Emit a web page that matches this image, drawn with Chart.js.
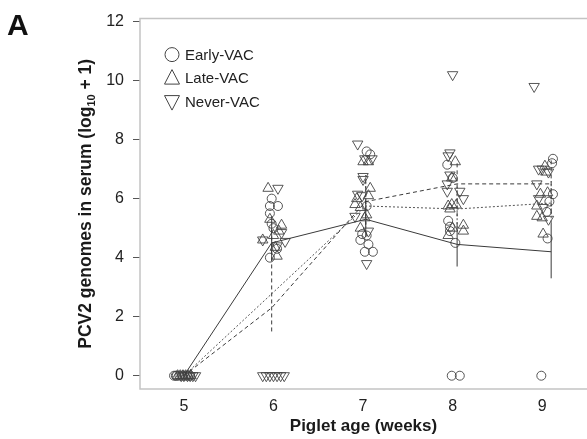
<!DOCTYPE html>
<html>
<head>
<meta charset="utf-8">
<script src="https://cdn.jsdelivr.net/npm/chart.js@4.4.0/dist/chart.umd.min.js"></script>
<style>
  body { margin: 0; background: #fff; }
  canvas { display: block; }
</style>
</head>
<body>
<canvas id="chart" width="587" height="439"></canvas>
<script>
const FONT = "'Liberation Sans', Arial, Helvetica, sans-serif";

const groups = ['Early-VAC', 'Late-VAC', 'Never-VAC'];
const weekTicks = [5, 6, 7, 8, 9];
const valueTicks = [0, 2, 4, 6, 8, 10, 12];

// single pigs, [age in weeks (jittered), log10 genomes + 1]
const earlyPoints = [
  [4.89, 0], [4.92, 0], [4.95, 0], [4.98, 0], [5.01, 0], [5.04, 0], [5.07, 0], [4.91, 0],
  [5.98, 6.0], [6.05, 5.75], [5.96, 5.75], [5.96, 5.5], [5.98, 5.15], [6.04, 4.3], [5.96, 4.0], [6.0, 5.0],
  [7.04, 7.6], [7.08, 7.5], [7.04, 5.75], [6.99, 4.8], [7.04, 4.75], [6.97, 4.6], [7.06, 4.45], [7.02, 4.2], [7.11, 4.2],
  [7.94, 7.15], [8.0, 6.7], [7.95, 5.25], [7.97, 5.05], [7.97, 4.9], [8.03, 4.5], [7.99, 0], [8.08, 0],
  [9.12, 7.35], [9.11, 7.2], [9.12, 6.15], [9.08, 5.9], [9.05, 5.55], [9.06, 4.65], [8.99, 0]
];
const latePoints = [
  [4.93, 0], [4.96, 0], [4.99, 0], [5.02, 0], [5.05, 0], [5.08, 0],
  [5.94, 6.35], [5.96, 5.3], [6.09, 5.1], [6.0, 4.75], [5.88, 4.6], [6.04, 4.05], [6.02, 4.35], [6.06, 4.9],
  [7.0, 7.25], [7.06, 7.25], [7.08, 6.35], [6.93, 6.0], [7.06, 6.1], [6.91, 5.8], [6.97, 5.7], [7.04, 5.45], [7.02, 5.35], [6.97, 5.0],
  [8.03, 7.25], [7.99, 6.7], [7.95, 5.75], [7.99, 5.8], [8.04, 5.78], [7.97, 5.65], [8.0, 5.0], [8.12, 5.1], [8.12, 4.9], [7.95, 4.75],
  [9.03, 7.1], [9.04, 6.9], [8.98, 6.15], [9.06, 6.2], [8.94, 5.75], [8.94, 5.4], [9.0, 5.35], [9.01, 4.8]
];
const neverPoints = [
  [4.97, 0], [5.0, 0], [5.04, 0], [5.07, 0], [5.1, 0], [5.13, 0],
  [6.05, 6.35], [6.09, 4.85], [5.88, 4.6], [6.13, 4.55], [6.04, 4.4],
  [5.88, 0], [5.92, 0], [5.96, 0], [6.0, 0], [6.04, 0], [6.08, 0], [6.12, 0],
  [6.94, 7.85], [7.02, 7.35], [7.1, 7.35], [7.0, 6.75], [7.0, 6.65], [6.94, 6.15], [6.99, 6.1], [6.91, 5.4], [7.06, 4.9], [7.04, 3.8],
  [8.0, 10.2], [7.97, 7.55], [7.95, 7.45], [7.97, 6.8], [7.94, 6.5], [7.94, 6.25], [8.08, 6.25], [8.12, 6.0],
  [8.91, 9.8], [8.96, 7.0], [9.0, 7.0], [9.07, 6.9], [8.94, 6.5], [8.96, 6.0], [9.01, 5.7], [9.07, 5.3]
];

// group means and spread bars
const meanX = [5.0, 5.98, 7.03, 8.05, 9.1];
const earlyMean = [0, 4.5, 5.3, 4.45, 4.2];
const earlyLow = [null, 3.9, 4.7, 3.7, 3.3];
const earlyHigh = [null, 5.4, 6.0, 5.2, 5.2];
const lateMean = [0, null, 5.75, 5.65, 5.85];
const lateLow = [null, null, 5.0, 5.0, 5.2];
const lateHigh = [null, null, 6.6, 6.4, 6.6];
const neverMean = [0, 2.3, 5.9, 6.5, 6.5];
const neverLow = [null, 1.5, 5.1, 5.4, 5.5];
const neverHigh = [null, 5.0, 6.8, 7.3, 7.4];

const INK = '#444';
const styles = [
  { pointStyle: 'circle', rotation: 0, radius: 4.5, dash: [], lineColor: '#3a3a3a' },
  { pointStyle: 'triangle', rotation: 0, radius: 6, dash: [2, 2], lineColor: '#555' },
  { pointStyle: 'triangle', rotation: 180, radius: 6, dash: [4, 3], lineColor: '#3a3a3a' }
];

const toXY = arr => arr.map(p => ({ x: p[0], y: p[1] }));
const meanXY = ys => ys.map((v, i) => ({ x: meanX[i], y: v }));

const pointSets = [earlyPoints, latePoints, neverPoints];
const means = [earlyMean, lateMean, neverMean];
const lows = [earlyLow, lateLow, neverLow];
const highs = [earlyHigh, lateHigh, neverHigh];

const datasets = [];
groups.forEach((g, i) => {
  datasets.push({
    type: 'line',
    label: g + ' mean',
    data: meanXY(means[i]),
    borderColor: styles[i].lineColor,
    borderWidth: 1,
    borderDash: styles[i].dash,
    pointRadius: 0,
    spanGaps: true,
    fill: false,
    tension: 0
  });
});
groups.forEach((g, i) => {
  datasets.push({
    type: 'scatter',
    label: g,
    data: toXY(pointSets[i]),
    pointStyle: styles[i].pointStyle,
    rotation: styles[i].rotation,
    pointRadius: styles[i].radius,
    pointBorderColor: INK,
    pointBackgroundColor: 'rgba(0,0,0,0)',
    pointBorderWidth: 0.9,
    showLine: false
  });
});

const extras = {
  id: 'extras',
  afterDatasetsDraw(chart) {
    const { ctx, chartArea: a, scales: { x, y } } = chart;
    ctx.save();
    // spread bars
    groups.forEach((g, i) => {
      ctx.strokeStyle = styles[i].lineColor;
      ctx.lineWidth = 1;
      ctx.setLineDash(styles[i].dash);
      meanX.forEach((mx, k) => {
        if (lows[i][k] == null) return;
        const px = x.getPixelForValue(mx);
        ctx.beginPath();
        ctx.moveTo(px, y.getPixelForValue(lows[i][k]));
        ctx.lineTo(px, y.getPixelForValue(highs[i][k]));
        ctx.stroke();
      });
    });
    ctx.setLineDash([]);
    // frame
    ctx.strokeStyle = '#c4c4c4';
    ctx.lineWidth = 1.5;
    ctx.beginPath();
    ctx.moveTo(a.right, a.top);
    ctx.lineTo(a.left, a.top);
    ctx.lineTo(a.left, a.bottom);
    ctx.lineTo(a.right, a.bottom);
    ctx.stroke();
    ctx.restore();
  },
  afterDraw(chart) {
    const { ctx, chartArea: a } = chart;
    ctx.save();
    // legend inside plot
    const lx = a.left + 32, ly = a.top + 36, step = 23.5;
    groups.forEach((g, i) => {
      const cy = ly + i * step;
      ctx.strokeStyle = INK;
      ctx.lineWidth = 1;
      ctx.beginPath();
      if (styles[i].pointStyle === 'circle') {
        ctx.arc(lx, cy, 7, 0, Math.PI * 2);
      } else {
        const s = styles[i].rotation ? -1 : 1;
        ctx.moveTo(lx, cy - s * 8.5);
        ctx.lineTo(lx + 7.5, cy + s * 6);
        ctx.lineTo(lx - 7.5, cy + s * 6);
        ctx.closePath();
      }
      ctx.stroke();
      ctx.fillStyle = '#222';
      ctx.font = '15px ' + FONT;
      ctx.textBaseline = 'middle';
      ctx.textAlign = 'left';
      ctx.fillText(g, lx + 13, cy + 1);
    });
    // y axis title with subscript
    ctx.translate(85, (a.top + a.bottom) / 2);
    ctx.rotate(-Math.PI / 2);
    ctx.fillStyle = '#1a1a1a';
    ctx.textBaseline = 'alphabetic';
    const big = 'bold 17.5px ' + FONT, small = 'bold 11px ' + FONT;
    const parts = [['PCV2 genomes in serum (log', big, 0], ['10', small, 4], [' + 1)', big, 0]];
    let total = 0;
    parts.forEach(p => { ctx.font = p[1]; total += ctx.measureText(p[0]).width; });
    let tx = -total / 2;
    parts.forEach(p => {
      ctx.font = p[1];
      ctx.fillText(p[0], tx, 6 + p[2]);
      tx += ctx.measureText(p[0]).width;
    });
    ctx.restore();
    // panel letter
    ctx.save();
    ctx.fillStyle = '#111';
    ctx.font = 'bold 30px ' + FONT;
    ctx.textBaseline = 'alphabetic';
    ctx.fillText('A', 7, 35);
    ctx.restore();
  }
};

new Chart(document.getElementById('chart'), {
  type: 'scatter',
  data: { datasets },
  options: {
    responsive: false,
    animation: false,
    devicePixelRatio: 1,
    layout: { autoPadding: false, padding: { top: 17, right: 0, left: 0, bottom: 0 } },
    plugins: { legend: { display: false }, tooltip: { enabled: false } },
    scales: {
      x: {
        type: 'linear',
        min: 4.51,
        max: 9.5,
        afterBuildTicks: s => { s.ticks = weekTicks.map(v => ({ value: v })); },
        afterFit: s => { s.height = 50; },
        grid: { display: false, drawTicks: false },
        border: { display: false },
        ticks: { color: '#222', font: { family: FONT, size: 16 }, padding: 8 },
        title: { display: true, text: 'Piglet age (weeks)', color: '#1a1a1a', font: { family: FONT, size: 17, weight: 'bold' }, padding: { top: 0, bottom: 2 } }
      },
      y: {
        type: 'linear',
        min: -0.45,
        max: 12.1,
        afterBuildTicks: s => { s.ticks = valueTicks.map(v => ({ value: v })); },
        afterFit: s => { s.width = 140; },
        grid: { drawOnChartArea: false, drawTicks: true, tickLength: 7, tickColor: '#555', lineWidth: 1 },
        border: { display: false },
        ticks: { color: '#222', font: { family: FONT, size: 16 }, padding: 9 }
      }
    }
  },
  plugins: [extras]
});
</script>
</body>
</html>
